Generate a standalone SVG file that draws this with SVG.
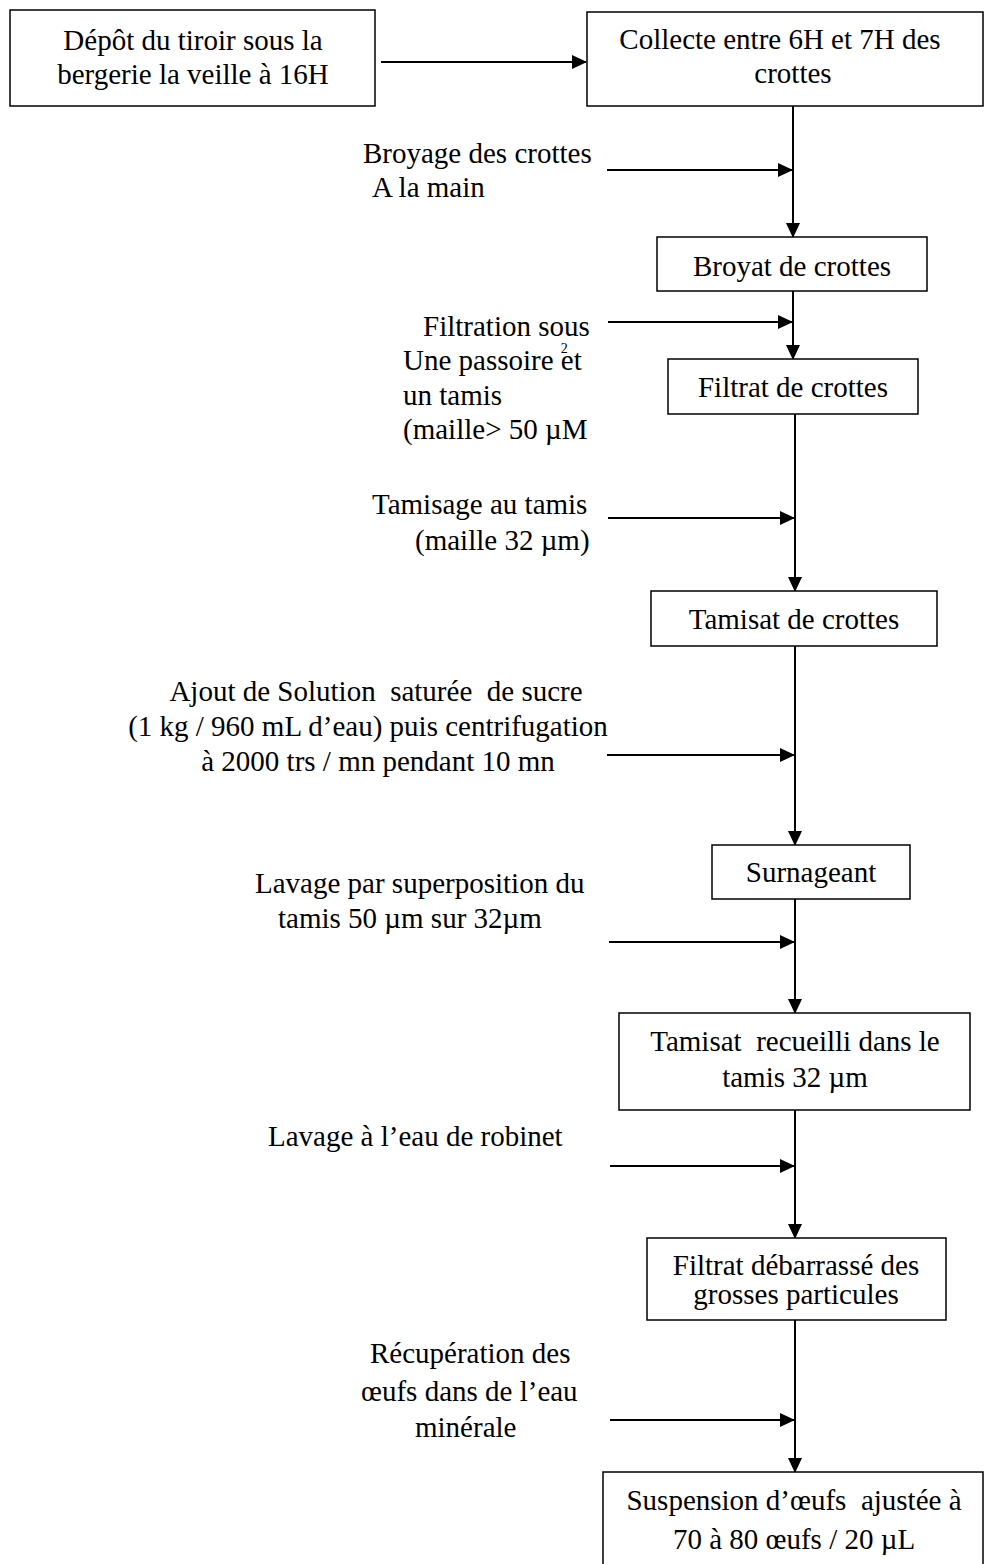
<svg xmlns="http://www.w3.org/2000/svg" width="985" height="1564" viewBox="0 0 985 1564">
<defs>
<marker id="ah" markerWidth="15" markerHeight="14" refX="14" refY="7" orient="auto" markerUnits="userSpaceOnUse">
<path d="M0,0 L15,7 L0,14 Z" fill="#000"/>
</marker>
<style>
text{font-family:"Liberation Serif","Times New Roman",serif;font-size:29px;fill:#000;white-space:pre}
.c{text-anchor:middle}
.box{fill:#fff;stroke:#000;stroke-width:1.5}
.ln{stroke:#000;stroke-width:2;fill:none}
</style>
</defs>
<rect width="985" height="1564" fill="#fff"/>
<g id="connectors">
<line class="ln" x1="381" y1="62" x2="586" y2="62" marker-end="url(#ah)"/>
<line class="ln" x1="793" y1="106" x2="793" y2="237" marker-end="url(#ah)"/>
<line class="ln" x1="607" y1="170" x2="792" y2="170" marker-end="url(#ah)"/>
<line class="ln" x1="793" y1="291" x2="793" y2="359" marker-end="url(#ah)"/>
<line class="ln" x1="608" y1="322" x2="792" y2="322" marker-end="url(#ah)"/>
<line class="ln" x1="795" y1="414" x2="795" y2="591" marker-end="url(#ah)"/>
<line class="ln" x1="608" y1="518" x2="794" y2="518" marker-end="url(#ah)"/>
<line class="ln" x1="795" y1="646" x2="795" y2="845" marker-end="url(#ah)"/>
<line class="ln" x1="607" y1="755" x2="794" y2="755" marker-end="url(#ah)"/>
<line class="ln" x1="795" y1="899" x2="795" y2="1013" marker-end="url(#ah)"/>
<line class="ln" x1="609" y1="942" x2="794" y2="942" marker-end="url(#ah)"/>
<line class="ln" x1="795" y1="1110" x2="795" y2="1238" marker-end="url(#ah)"/>
<line class="ln" x1="610" y1="1166" x2="794" y2="1166" marker-end="url(#ah)"/>
<line class="ln" x1="795" y1="1320" x2="795" y2="1472" marker-end="url(#ah)"/>
<line class="ln" x1="610" y1="1420" x2="794" y2="1420" marker-end="url(#ah)"/>
</g>
<g id="n1">
<rect class="box" x="10" y="10" width="365" height="96"/>
<text class="c" x="193" y="50">Dépôt du tiroir sous la</text>
<text class="c" x="193" y="84">bergerie la veille à 16H</text>
</g>
<g id="n2">
<rect class="box" x="587" y="12" width="396" height="94"/>
<text class="c" x="780" y="49">Collecte entre 6H et 7H des</text>
<text class="c" x="793" y="83">crottes</text>
</g>
<g id="l1">
<text x="363" y="163">Broyage des crottes</text>
<text x="372" y="197">A la main</text>
</g>
<g id="n3">
<rect class="box" x="657" y="237" width="270" height="54"/>
<text class="c" x="792" y="276">Broyat de crottes</text>
</g>
<g id="l2">
<text x="423" y="336">Filtration sous</text>
<text x="403" y="370">Une passoire <tspan style="font-size:14px" dy="-17">2</tspan><tspan dx="-7" dy="17">et</tspan></text>
<text x="403" y="405">un tamis</text>
<text x="403" y="439">(maille&gt; 50 µM</text>
</g>
<g id="n4">
<rect class="box" x="668" y="359" width="250" height="55"/>
<text class="c" x="793" y="397">Filtrat de crottes</text>
</g>
<g id="l3">
<text x="372" y="514">Tamisage au tamis</text>
<text x="415" y="550">(maille 32 µm)</text>
</g>
<g id="n5">
<rect class="box" x="651" y="591" width="286" height="55"/>
<text class="c" x="794" y="629">Tamisat de crottes</text>
</g>
<g id="l4">
<text class="c" x="376" y="701">Ajout de Solution  saturée  de sucre</text>
<text class="c" x="368" y="736">(1 kg / 960 mL d’eau) puis centrifugation</text>
<text class="c" x="378" y="771">à 2000 trs / mn pendant 10 mn</text>
</g>
<g id="n6">
<rect class="box" x="712" y="845" width="198" height="54"/>
<text class="c" x="811" y="882">Surnageant</text>
</g>
<g id="l5">
<text x="255" y="893">Lavage par superposition du</text>
<text x="278" y="928">tamis 50 µm sur 32µm</text>
</g>
<g id="n7">
<rect class="box" x="619" y="1013" width="351" height="97"/>
<text class="c" x="795" y="1051">Tamisat  recueilli dans le</text>
<text class="c" x="795" y="1087">tamis 32 µm</text>
</g>
<g id="l6">
<text x="268" y="1146">Lavage à l’eau de robinet</text>
</g>
<g id="n8">
<rect class="box" x="647" y="1238" width="299" height="82"/>
<text class="c" x="796" y="1275">Filtrat débarrassé des</text>
<text class="c" x="796" y="1304">grosses particules</text>
</g>
<g id="l7">
<text x="370" y="1363">Récupération des</text>
<text x="361" y="1401">œufs dans de l’eau</text>
<text x="415" y="1437">minérale</text>
</g>
<g id="n9">
<rect class="box" x="603" y="1472" width="380" height="100"/>
<text class="c" x="794" y="1510">Suspension d’œufs  ajustée à</text>
<text class="c" x="794" y="1549">70 à 80 œufs / 20 µL</text>
</g>
</svg>
